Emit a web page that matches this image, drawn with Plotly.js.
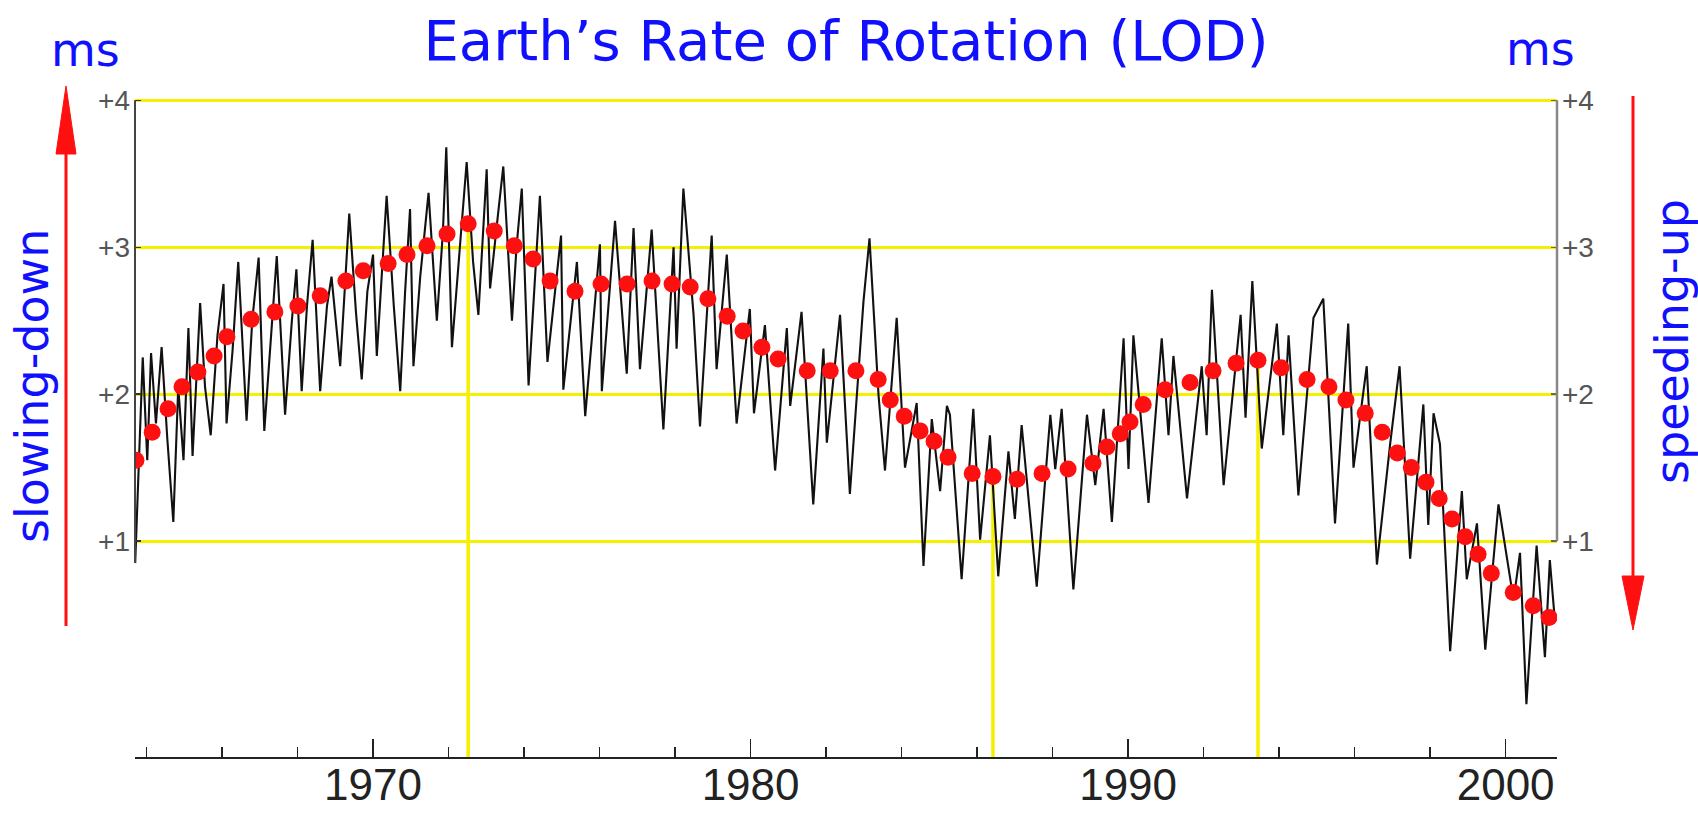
<!DOCTYPE html>
<html>
<head>
<meta charset="utf-8">
<script src="https://cdn.plot.ly/plotly-3.0.1.min.js"></script>
<style>
  html, body { margin: 0; padding: 0; background: #ffffff; }
  #chart { width: 1698px; height: 817px; }
</style>
</head>
<body>
<div id="chart"></div>
<script>
// ---------------- DATA ----------------
// Monthly-ish LOD excess (ms), black line: [year, value]
const lodYears = [
  1963.70,1963.80,1963.90,1964.02,1964.12,1964.25,1964.40,1964.55,1964.71,1964.84,
  1964.98,1965.11,1965.22,1965.42,1965.55,1965.70,1965.88,1966.04,1966.12,1966.28,
  1966.43,1966.65,1966.80,1966.97,1967.12,1967.30,1967.45,1967.67,1967.85,1967.97,
  1968.11,1968.25,1968.40,1968.60,1968.78,1968.90,1969.13,1969.37,1969.55,1969.70,
  1969.85,1970.00,1970.10,1970.36,1970.55,1970.72,1970.85,1970.98,1971.07,1971.25,
  1971.47,1971.69,1971.85,1971.94,1972.09,1972.30,1972.48,1972.65,1972.79,1973.01,
  1973.10,1973.30,1973.45,1973.68,1973.80,1973.94,1974.12,1974.42,1974.62,1974.98,
  1975.04,1975.40,1975.62,1976.01,1976.06,1976.41,1976.72,1976.90,1977.07,1977.38,
  1977.69,1977.96,1978.04,1978.22,1978.49,1978.66,1978.97,1979.10,1979.37,1979.63,
  1979.98,1980.09,1980.38,1980.65,1980.96,1981.05,1981.35,1981.66,1981.93,1982.02,
  1982.37,1982.63,1982.99,1983.15,1983.39,1983.56,1983.87,1984.09,1984.40,1984.58,
  1984.80,1985.02,1985.20,1985.28,1985.59,1985.90,1986.08,1986.34,1986.56,1986.83,
  1987.00,1987.18,1987.58,1987.94,1988.07,1988.24,1988.55,1988.91,1989.13,1989.35,
  1989.57,1989.88,1990.01,1990.14,1990.54,1990.89,1991.07,1991.20,1991.56,1991.95,
  1992.08,1992.22,1992.53,1992.98,1993.11,1993.29,1993.54,1993.94,1994.11,1994.25,
  1994.51,1994.91,1995.17,1995.48,1995.83,1995.97,1996.32,1996.59,1996.94,1997.19,
  1997.47,1997.82,1997.95,1998.09,1998.26,1998.53,1998.84,1998.97,1999.24,1999.46,
  1999.81,2000.21,2000.38,2000.55,2000.82,2001.04,2001.17,2001.30
];
const lodValues = [
  0.85,1.60,2.25,1.55,2.28,1.80,2.32,1.70,1.13,2.05,
  1.55,2.45,1.58,2.62,2.05,1.72,2.40,2.75,1.80,2.30,
  2.90,1.82,2.50,2.93,1.75,2.40,2.94,1.86,2.50,2.85,
  2.02,2.60,3.05,2.02,2.60,2.80,2.19,3.23,2.55,2.10,
  2.70,2.95,2.26,3.35,2.60,2.02,2.70,3.26,2.19,2.80,
  3.37,2.50,3.10,3.68,2.32,3.00,3.58,2.90,2.54,3.53,
  2.72,3.20,3.55,2.50,3.00,3.40,2.06,3.35,2.22,3.08,
  2.03,2.90,1.85,3.02,2.02,3.18,2.14,3.13,2.17,3.12,
  1.76,3.00,2.31,3.40,2.54,1.78,3.08,2.17,2.95,1.80,
  2.58,1.87,2.47,1.48,2.45,1.92,2.56,1.25,2.31,1.67,
  2.54,1.32,2.63,3.06,1.99,1.48,2.52,1.50,1.94,0.83,
  1.83,1.34,1.92,1.86,0.74,1.90,1.01,1.72,0.76,1.61,
  1.15,1.79,0.69,1.86,1.49,1.90,0.67,1.86,1.38,1.90,
  1.13,2.38,1.49,2.40,1.26,2.38,1.72,2.26,1.29,2.19,
  1.72,2.71,1.38,2.54,1.84,2.77,1.63,2.48,1.72,2.40,
  1.31,2.52,2.65,1.12,2.48,1.50,2.19,0.84,1.66,2.19,
  0.88,1.93,1.11,1.87,1.66,0.25,1.34,0.74,1.12,0.26,
  1.25,0.60,0.92,-0.11,0.97,0.21,0.87,0.47
];

// Smoothed trend (red dots)
const trendYears = [
  1963.72,1964.15,1964.57,1964.94,1965.36,1965.79,1966.13,1966.77,1967.40,1968.01,
  1968.60,1969.28,1969.74,1970.40,1970.90,1971.43,1971.96,1972.52,1973.21,1973.74,
  1974.24,1974.69,1975.35,1976.04,1976.73,1977.39,1977.92,1978.40,1978.87,1979.38,
  1979.80,1980.30,1980.73,1981.50,1982.11,1982.79,1983.38,1983.70,1984.07,1984.49,
  1984.86,1985.23,1985.87,1986.42,1987.06,1987.72,1988.41,1989.07,1989.44,1989.79,
  1990.05,1990.40,1990.98,1991.64,1992.25,1992.86,1993.44,1994.05,1994.74,1995.32,
  1995.77,1996.28,1996.73,1997.13,1997.50,1997.89,1998.24,1998.58,1998.93,1999.27,
  1999.62,2000.20,2000.73,2001.15
];
const trendValues = [
  1.55,1.74,1.90,2.05,2.15,2.26,2.39,2.51,2.56,2.60,
  2.67,2.77,2.84,2.89,2.95,3.01,3.09,3.16,3.11,3.01,
  2.92,2.77,2.70,2.75,2.75,2.77,2.75,2.73,2.65,2.53,
  2.43,2.32,2.24,2.16,2.16,2.16,2.10,1.96,1.85,1.75,
  1.68,1.57,1.46,1.44,1.42,1.46,1.49,1.53,1.64,1.73,
  1.81,1.93,2.03,2.08,2.16,2.21,2.23,2.18,2.10,2.05,
  1.96,1.87,1.74,1.60,1.50,1.40,1.29,1.15,1.03,0.91,
  0.78,0.65,0.56,0.48
];

// Turning points marked by vertical yellow lines
const turningYears = [1972.52, 1986.42, 1993.44];

// Axis ticks
const yTickVals = [1, 2, 3, 4];
const yTickText = ['+1', '+2', '+3', '+4'];
const xTickVals = [1970, 1980, 1990, 2000];
const xTickText = ['1970', '1980', '1990', '2000'];

// ---------------- LAYOUT GEOMETRY ----------------
const W = 1698, H = 817;
const M = { l: 135, r: 141, t: 93, b: 60 };
const plotW = W - M.l - M.r, plotH = H - M.t - M.b;
const xRange = [1963.695, 2001.36];
const yRange = [-0.47, 4.05];
const px = v => (v - M.l) / plotW;           // pixel x -> paper x
const py = v => (H - M.b - v) / plotH;       // pixel y -> paper y

const YELLOW = '#f7ef00';
const BLUE = '#1010ff';
const RED = '#ff1010';

function trendAt(year) {
  let best = 0;
  trendYears.forEach((t, i) => { if (Math.abs(t - year) < Math.abs(trendYears[best] - year)) best = i; });
  return trendValues[best];
}

const traces = [
  {
    x: lodYears, y: lodValues, type: 'scatter', mode: 'lines',
    line: { color: '#111111', width: 2.1 },
    yaxis: 'y', hoverinfo: 'skip', showlegend: false
  },
  {
    x: trendYears, y: trendValues, type: 'scatter', mode: 'markers',
    marker: { color: RED, size: 17, line: { width: 0 } },
    yaxis: 'y2', hoverinfo: 'skip', showlegend: false
  }
];

const shapes = [];
// vertical yellow turning-point lines
turningYears.forEach(yr => {
  shapes.push({
    type: 'line', xref: 'x', yref: 'y', layer: 'below',
    x0: yr, x1: yr, y0: trendAt(yr), y1: yRange[0],
    line: { color: YELLOW, width: 3.5 }
  });
});
// left axis line (from just below +1 to +4)
shapes.push({ type: 'line', xref: 'paper', yref: 'y', x0: 0, x1: 0, y0: 0.85, y1: 4,
  line: { color: '#444', width: 2, dash: 'solid' } });
// right axis line (+1 to +4)
shapes.push({ type: 'line', xref: 'paper', yref: 'y', x0: 1, x1: 1, y0: 1, y1: 4,
  line: { color: '#888', width: 2.5 } });
// left red arrow (up)
shapes.push({ type: 'line', xref: 'paper', yref: 'paper', x0: px(66), x1: px(66), y0: py(626), y1: py(140),
  line: { color: RED, width: 3 } });
shapes.push({ type: 'path', xref: 'paper', yref: 'paper',
  path: `M ${px(66)} ${py(86)} L ${px(56)} ${py(154)} L ${px(76)} ${py(154)} Z`,
  fillcolor: RED, line: { color: RED, width: 1 } });
// right red arrow (down)
shapes.push({ type: 'line', xref: 'paper', yref: 'paper', x0: px(1633), x1: px(1633), y0: py(96), y1: py(590),
  line: { color: RED, width: 3 } });
shapes.push({ type: 'path', xref: 'paper', yref: 'paper',
  path: `M ${px(1633)} ${py(630)} L ${px(1622)} ${py(576)} L ${px(1644)} ${py(576)} Z`,
  fillcolor: RED, line: { color: RED, width: 1 } });

const sideFont = { family: 'DejaVu Sans, Verdana, sans-serif', size: 46, color: BLUE };
const msFont = { family: 'DejaVu Sans, Verdana, sans-serif', size: 46, color: BLUE };
const annotations = [
  { text: 'ms', xref: 'paper', yref: 'paper', x: px(85), y: py(50), xanchor: 'center', yanchor: 'middle',
    showarrow: false, font: msFont },
  { text: 'ms', xref: 'paper', yref: 'paper', x: px(1540), y: py(49), xanchor: 'center', yanchor: 'middle',
    showarrow: false, font: msFont },
  { text: 'slowing-down', xref: 'paper', yref: 'paper', x: px(32), y: py(386), xanchor: 'center', yanchor: 'middle',
    textangle: -90, showarrow: false, font: sideFont },
  { text: 'speeding-up', xref: 'paper', yref: 'paper', x: px(1672), y: py(342), xanchor: 'center', yanchor: 'middle',
    textangle: -90, showarrow: false, font: sideFont }
];

const tickFont = { family: 'Liberation Sans, Arial, sans-serif', size: 28, color: '#555' };

const layout = {
  width: W, height: H,
  margin: M,
  paper_bgcolor: '#ffffff', plot_bgcolor: '#ffffff',
  showlegend: false,
  title: {
    text: 'Earth’s Rate of Rotation (LOD)',
    font: { family: 'DejaVu Sans, Verdana, sans-serif', size: 56, color: BLUE },
    xref: 'container', yref: 'container',
    x: 846 / W, y: 1 - 40 / H, xanchor: 'center', yanchor: 'middle'
  },
  xaxis: {
    range: xRange, showgrid: false, zeroline: false,
    showline: true, linecolor: '#222', linewidth: 2,
    tickmode: 'array', tickvals: xTickVals, ticktext: xTickText,
    ticks: 'inside', ticklen: 18, tickwidth: 1.5, tickcolor: '#222',
    minor: { dtick: 2, tick0: 1964, ticks: 'inside', ticklen: 10, tickwidth: 1.5, tickcolor: '#222', showgrid: false },
    tickfont: { family: 'Liberation Sans, Arial, sans-serif', size: 44, color: '#222' },
    ticklabelstandoff: -12
  },
  yaxis: {
    range: yRange, zeroline: false, showline: false,
    tickmode: 'array', tickvals: yTickVals, ticktext: yTickText,
    showgrid: true, gridcolor: YELLOW, gridwidth: 3,
    ticks: 'inside', ticklen: 6, tickwidth: 1.5, tickcolor: '#333',
    tickfont: tickFont, ticklabelstandoff: 4
  },
  yaxis2: {
    range: yRange, overlaying: 'y', side: 'right', matches: 'y',
    zeroline: false, showline: false, showgrid: false,
    tickmode: 'array', tickvals: yTickVals, ticktext: yTickText,
    ticks: 'inside', ticklen: 6, tickwidth: 1.5, tickcolor: '#666',
    tickfont: tickFont, ticklabelstandoff: 4
  },
  shapes: shapes,
  annotations: annotations
};

Plotly.newPlot('chart', traces, layout, { staticPlot: true, displayModeBar: false });
</script>
</body>
</html>
